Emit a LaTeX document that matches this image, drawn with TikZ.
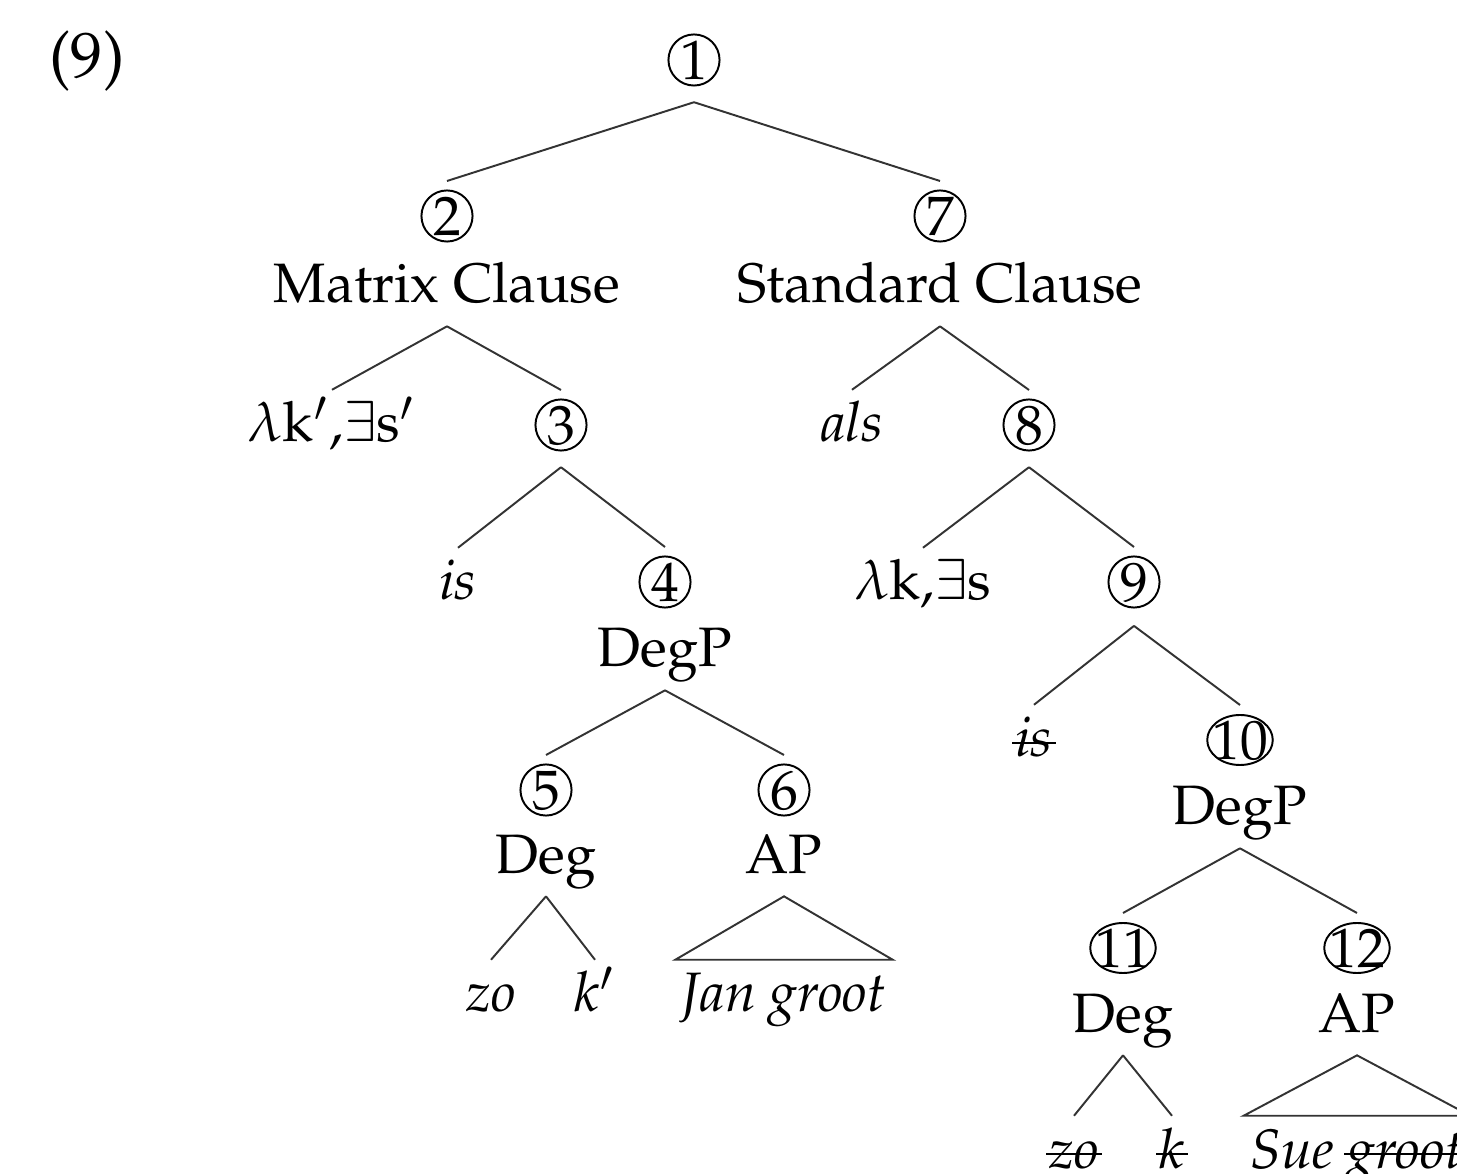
\documentclass[tikz,border=0pt]{standalone}
\usepackage[T1]{fontenc}
\usepackage{mathpazo}
\newcommand\strk[1]{\setbox0\hbox{#1}\rlap{\kern-0.6pt\rule[2.4pt]{\dimexpr\wd0+1.2pt\relax}{0.35pt}}\box0}
\begin{document}
\begin{tikzpicture}[x=0.18pt,y=-0.18pt,
  lab/.style={anchor=base, inner xsep=0pt, inner ysep=2pt, text height=7.2pt, text depth=2pt},
  num/.style={inner sep=0pt, minimum width=9pt, minimum height=12.2pt, text height=6.9pt, text depth=0pt},
  ring/.style={line width=0.35pt},
  edge/.style={line width=0.35pt, draw=black!80},
  tri/.style={line width=0.35pt, draw=black!80}]
\useasboundingbox (0,0) rectangle (1457,1174);
\clip (0,0) rectangle (1457,1174);

\node[font=\fontsize{11.6}{14}\selectfont] (ex) at (87,61) {(9)};

% circled numbers
\node[num] (n1) at (694,60) {1};
\node[num] (n2) at (447,216) {2};
\node[num] (n7) at (940,216) {7};
\node[num] (n3) at (561,425) {3};
\node[num] (n8) at (1029,425) {8};
\node[num] (n4) at (665,582) {4};
\node[num] (n9) at (1134,582) {9};
\node[num] (n10) at (1240,740) {10};
\node[num] (n5) at (546,790) {5};
\node[num] (n6) at (784,790) {6};
\node[num] (n11) at (1123,948) {11};
\node[num] (n12) at (1357,948) {12};
\foreach \n in {n1,n2,n7,n3,n8,n4,n9,n5,n6}
  \draw[ring] (\n.center) circle (4.6pt);
\foreach \n in {n10,n11,n12}
  \draw[ring] (\n.center) ellipse [x radius=5.9pt, y radius=4.5pt];

% labels
\node[lab] (mc) at (447,303) {Matrix Clause};
\node[lab] (sc) at (940,303) {Standard Clause};
\node[lab] (lk1) at (332,442) {$\lambda$k$'$,$\exists$s$'$};
\node[lab] (als) at (852,442) {\textit{als}};
\node[lab] (is1) at (458,600) {\textit{is}};
\node[lab] (dp1) at (665,667) {DegP};
\node[lab] (lk2) at (923,600) {$\lambda$k,$\exists$s};
\node[lab] (is2) at (1034,757) {\textit{\strk{is}}};
\node[lab] (dp2) at (1240,825) {DegP};
\node[lab] (deg1) at (546,873) {Deg};
\node[lab] (ap1) at (784,873) {AP};
\node[lab] (zo1) at (491,1012) {\textit{zo}};
\node[lab] (k1) at (595,1012) {\textit{k}$'$};
\node[lab,inner xsep=1pt] (jg) at (784,1012) {\textit{Jan groot}};
\node[lab] (deg2) at (1123,1032) {Deg};
\node[lab] (ap2) at (1357,1032) {AP};
\node[lab] (zo2) at (1074,1168) {\textit{\strk{zo}}};
\node[lab] (k2) at (1172,1168) {\textit{\strk{k}}};
\node[lab,inner xsep=1pt] (sg) at (1357,1168) {\textit{Sue \strk{groot}}};

% connectors
\draw[edge] ([yshift=-1.3pt]n1.south) -- (n2.north);
\draw[edge] ([yshift=-1.3pt]n1.south) -- (n7.north);
\draw[edge] (mc.south) -- (lk1.north);
\draw[edge] (mc.south) -- (n3.north);
\draw[edge] (sc.south) -- (als.north);
\draw[edge] (sc.south) -- (n8.north);
\draw[edge] ([yshift=-1.3pt]n3.south) -- (is1.north);
\draw[edge] ([yshift=-1.3pt]n3.south) -- (n4.north);
\draw[edge] ([yshift=-1.3pt]n8.south) -- (lk2.north);
\draw[edge] ([yshift=-1.3pt]n8.south) -- (n9.north);
\draw[edge] ([yshift=-1.6pt]n9.south) -- (is2.north);
\draw[edge] ([yshift=-1.6pt]n9.south) -- (n10.north);
\draw[edge] (dp1.south) -- (n5.north);
\draw[edge] (dp1.south) -- (n6.north);
\draw[edge] (dp2.south) -- (n11.north);
\draw[edge] (dp2.south) -- (n12.north);
\draw[edge] (deg1.south) -- (zo1.north);
\draw[edge] (deg1.south) -- (k1.north);
\draw[edge] (deg2.south) -- (zo2.north);
\draw[edge] (deg2.south) -- (k2.north);
\draw[tri] (ap1.south) -- (jg.north west) -- (jg.north east) -- cycle;
\draw[tri] (ap2.south) -- (sg.north west) -- (sg.north east) -- cycle;
\end{tikzpicture}
\end{document}
